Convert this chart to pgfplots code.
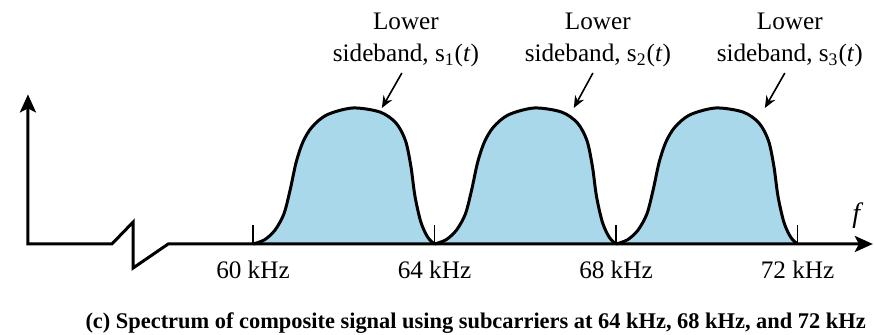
\documentclass[border=0pt]{standalone}
\usepackage{fontspec}
\setmainfont{Liberation Serif}
\usepackage{pgfplots}
\pgfplotsset{compat=1.18}
\usetikzlibrary{arrows.meta}
\definecolor{lobe}{RGB}{168,216,234}
\begin{document}
\fontsize{12.6}{16}\selectfont
\begin{tikzpicture}
\begin{axis}[x=22.6875pt, y=68pt, scale only axis,
  xmin=54.424, xmax=73.686, ymin=-0.669, ymax=1.794,
  hide axis, clip=false]
% lobe fills
\addplot[fill=lobe, draw=none, smooth] coordinates {(60,0) (60.25,0.03) (60.48,0.10) (60.68,0.22) (60.82,0.40) (60.95,0.60) (61.1,0.75) (61.3,0.86) (61.63,0.95) (62.2,1.0) (62.8,0.97) (63.15,0.89) (63.36,0.76) (63.48,0.57) (63.57,0.35) (63.70,0.16) (63.85,0.05) (64,0)} \closedcycle;
\addplot[fill=lobe, draw=none, smooth] coordinates {(64,0) (64.25,0.03) (64.48,0.10) (64.68,0.22) (64.82,0.40) (64.95,0.60) (65.1,0.75) (65.3,0.86) (65.63,0.95) (66.2,1.0) (66.8,0.97) (67.15,0.89) (67.36,0.76) (67.48,0.57) (67.57,0.35) (67.70,0.16) (67.85,0.05) (68,0)} \closedcycle;
\addplot[fill=lobe, draw=none, smooth] coordinates {(68,0) (68.25,0.03) (68.48,0.10) (68.68,0.22) (68.82,0.40) (68.95,0.60) (69.1,0.75) (69.3,0.86) (69.63,0.95) (70.2,1.0) (70.8,0.97) (71.15,0.89) (71.36,0.76) (71.48,0.57) (71.57,0.35) (71.70,0.16) (71.85,0.05) (72,0)} \closedcycle;
% lobe outlines
\addplot[draw=black, line width=1.5pt, smooth] coordinates {(60,0) (60.25,0.03) (60.48,0.10) (60.68,0.22) (60.82,0.40) (60.95,0.60) (61.1,0.75) (61.3,0.86) (61.63,0.95) (62.2,1.0) (62.8,0.97) (63.15,0.89) (63.36,0.76) (63.48,0.57) (63.57,0.35) (63.70,0.16) (63.85,0.05) (64,0)};
\addplot[draw=black, line width=1.5pt, smooth] coordinates {(64,0) (64.25,0.03) (64.48,0.10) (64.68,0.22) (64.82,0.40) (64.95,0.60) (65.1,0.75) (65.3,0.86) (65.63,0.95) (66.2,1.0) (66.8,0.97) (67.15,0.89) (67.36,0.76) (67.48,0.57) (67.57,0.35) (67.70,0.16) (67.85,0.05) (68,0)};
\addplot[draw=black, line width=1.5pt, smooth] coordinates {(68,0) (68.25,0.03) (68.48,0.10) (68.68,0.22) (68.82,0.40) (68.95,0.60) (69.1,0.75) (69.3,0.86) (69.63,0.95) (70.2,1.0) (70.8,0.97) (71.15,0.89) (71.36,0.76) (71.48,0.57) (71.57,0.35) (71.70,0.16) (71.85,0.05) (72,0)};
% axes with break
\addplot[draw=black, line width=1.5pt, line join=miter, {Stealth[length=9pt,width=8pt,inset=2pt]}-{Stealth[length=9pt,width=8pt,inset=2pt]}] coordinates {(55.04,1.10) (55.04,0) (56.89,0) (57.36,0.162) (57.36,-0.176) (58.13,0) (73.66,0)};
% ticks
\addplot[draw=black, line width=0.8pt] coordinates {(60,0) (60,0.14)};
\addplot[draw=black, line width=0.8pt] coordinates {(64,0) (64,0.14)};
\addplot[draw=black, line width=0.8pt] coordinates {(68,0) (68,0.14)};
\addplot[draw=black, line width=0.8pt] coordinates {(72,0) (72,0.14)};
% annotation arrows
\addplot[draw=black, line width=0.8pt, -{Stealth[length=6pt,width=5pt]}] coordinates {(63.28,1.257) (62.84,1.0)};
\addplot[draw=black, line width=0.8pt, -{Stealth[length=6pt,width=5pt]}] coordinates {(67.49,1.257) (67.07,1.0)};
\addplot[draw=black, line width=0.8pt, -{Stealth[length=6pt,width=5pt]}] coordinates {(71.72,1.257) (71.28,1.0)};
% labels
\node[align=center] at (axis cs:63.37,1.50) {Lower\\sideband, s\textsubscript{1}(\textit{t})};
\node[align=center] at (axis cs:67.60,1.50) {Lower\\sideband, s\textsubscript{2}(\textit{t})};
\node[align=center] at (axis cs:71.83,1.50) {Lower\\sideband, s\textsubscript{3}(\textit{t})};
\node at (axis cs:60,-0.19) {60 kHz};
\node at (axis cs:64,-0.19) {64 kHz};
\node at (axis cs:68,-0.19) {68 kHz};
\node at (axis cs:72,-0.19) {72 kHz};
\node[font=\fontsize{14}{16}\selectfont] at (axis cs:73.33,0.21) {\textit{f}};
\node[anchor=west, inner sep=0pt, font=\fontsize{11.2}{13}\selectfont\bfseries] at (axis cs:56.30,-0.58) {(c) Spectrum of composite signal using subcarriers at 64 kHz, 68 kHz, and 72 kHz};
\coordinate (BL) at (axis cs:54.424,-0.669);
\coordinate (TR) at (axis cs:73.686,1.794);
\end{axis}
\pgfresetboundingbox
\useasboundingbox (BL) rectangle (TR);
\end{tikzpicture}
\end{document}
